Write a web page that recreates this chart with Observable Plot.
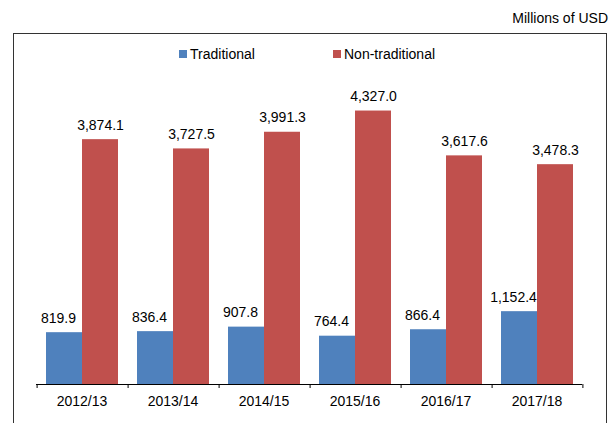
<!DOCTYPE html>
<html>
<head>
<meta charset="utf-8">
<script src="https://cdn.jsdelivr.net/npm/d3@7"></script>
<script src="https://cdn.jsdelivr.net/npm/@observablehq/plot@0.6"></script>
<style>
  html, body { margin: 0; padding: 0; background: #fff; }
  #wrap { position: relative; width: 612px; height: 423px; font-family: "Liberation Sans", Arial, Helvetica, sans-serif; color: #000; overflow: hidden; }
  #wrap svg { position: absolute; left: 0; top: 0; }
  .box { position: absolute; left: 13px; top: 33px; width: 594px; height: 395px; box-sizing: border-box; border: 1px solid #333; border-bottom: none; pointer-events: none; }
  .unit { position: absolute; right: 4px; top: 9px; font-size: 14px; line-height: 18px; white-space: nowrap; }
  .leg { position: absolute; top: 45px; font-size: 14px; line-height: 18px; white-space: nowrap; }
  .sw { position: absolute; top: 5px; left: 0; width: 8px; height: 8px; }
  .leg span.t { position: absolute; left: 11px; top: 0; }
</style>
</head>
<body>
<div id="wrap"></div>
<script>
const years = ["2012/13", "2013/14", "2014/15", "2015/16", "2016/17", "2017/18"];
const seriesNames = ["Traditional", "Non-traditional"];
const traditional = [819.9, 836.4, 907.8, 764.4, 866.4, 1152.4];
const nonTraditional = [3874.1, 3727.5, 3991.3, 4327.0, 3617.6, 3478.3];
const colors = ["#4F81BD", "#C0504D"];
const unitLabel = "Millions of USD";

const data = years.flatMap((yr, i) => [
  {year: yr, series: seriesNames[0], value: traditional[i]},
  {year: yr, series: seriesNames[1], value: nonTraditional[i]}
]);
const dataT = data.filter(d => d.series === seriesNames[0]);
const dataN = data.filter(d => d.series === seriesNames[1]);

const fmt = d3.format(",.1f");
const font = "Liberation Sans, Arial, Helvetica, sans-serif";

const chart = Plot.plot({
  width: 612,
  height: 423,
  marginLeft: 35,
  marginRight: 29,
  marginTop: 68,
  marginBottom: 39,
  style: {fontFamily: font, fontSize: "14px", color: "#000", background: "transparent"},
  fx: {domain: years, padding: 0, label: null, axis: "bottom", tickSize: 0, tickPadding: 12},
  x: {domain: seriesNames, paddingInner: 0, paddingOuter: 0.25, axis: null},
  y: {domain: [0, 5000], axis: null},
  color: {domain: seriesNames, range: colors},
  marks: [
    Plot.barY(data, {fx: "year", x: "series", y: "value", fill: "series"}),
    Plot.text(dataT, {fx: "year", x: "series", y: "value", text: d => fmt(d.value),
      lineAnchor: "bottom", dy: -10, dx: -6, fontSize: 14, fill: "#000"}),
    Plot.text(dataN, {fx: "year", x: "series", y: "value", text: d => fmt(d.value),
      lineAnchor: "bottom", dy: -10, fontSize: 14, fill: "#000"}),
    Plot.ruleY([0], {stroke: "#000", strokeWidth: 1}),
    // boundary ticks below the axis line: left edge of each category, right edge of the last
    Plot.ruleX(years, {fx: d => d, x: () => seriesNames[0], y1: 0, y2: 0, insetBottom: -4, dx: -27.4, stroke: "#000"}),
    Plot.ruleX([years[years.length - 1]], {fx: d => d, x: () => seriesNames[1], y1: 0, y2: 0, insetBottom: -4, dx: 27.4, stroke: "#000"})
  ]
});

const wrap = document.getElementById("wrap");
wrap.appendChild(chart);

const box = document.createElement("div");
box.className = "box";
wrap.appendChild(box);

const unit = document.createElement("div");
unit.className = "unit";
unit.textContent = unitLabel;
wrap.appendChild(unit);

const legX = [179, 333];
seriesNames.forEach((name, i) => {
  const item = document.createElement("div");
  item.className = "leg";
  item.style.left = legX[i] + "px";
  const sw = document.createElement("span");
  sw.className = "sw";
  sw.style.background = colors[i];
  const t = document.createElement("span");
  t.className = "t";
  t.textContent = name;
  item.appendChild(sw);
  item.appendChild(t);
  wrap.appendChild(item);
});
</script>
</body>
</html>
